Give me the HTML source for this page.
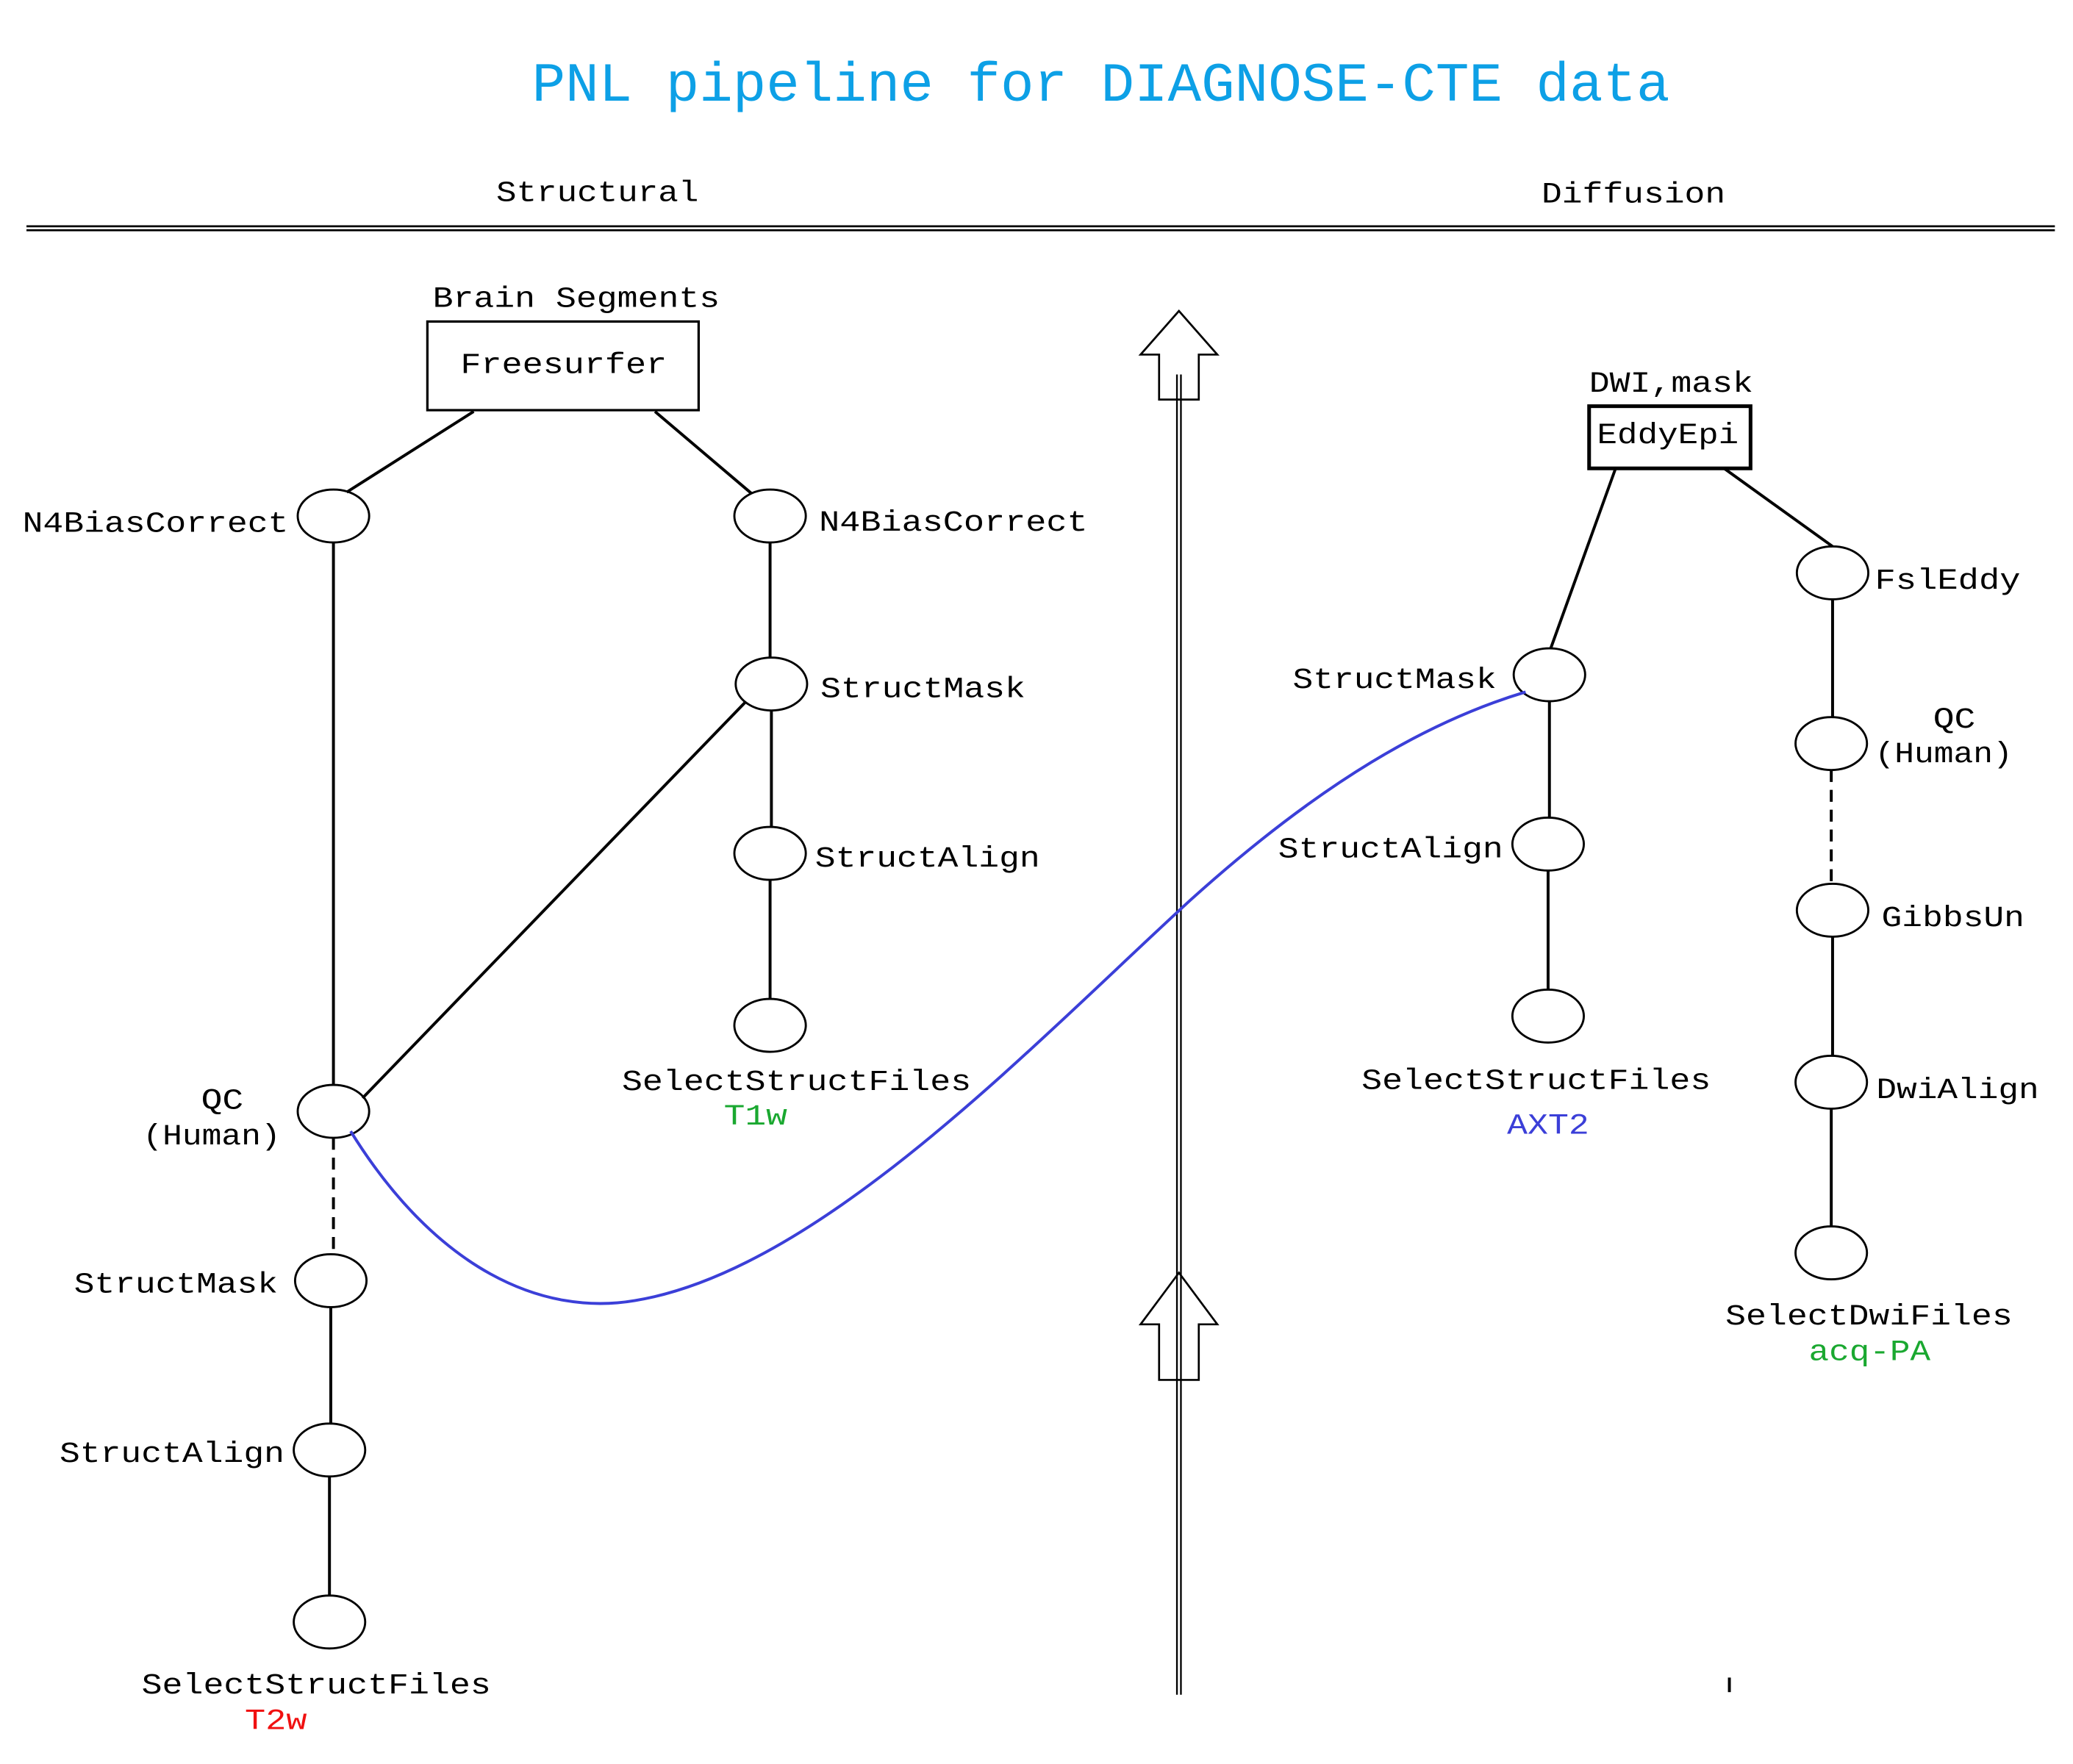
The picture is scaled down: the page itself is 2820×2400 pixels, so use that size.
<!DOCTYPE html>
<html><head><style>html,body{margin:0;padding:0;background:#fff}svg{display:block}</style></head>
<body>
<svg width="2820" height="2400" viewBox="0 0 1566.7 1333.3" xmlns="http://www.w3.org/2000/svg">
<rect width="1566.7" height="1333.3" fill="#fff"/>
<g font-family="Liberation Mono, monospace" lengthAdjust="spacingAndGlyphs">
<text x="402" y="76" font-size="42" fill="#0da0e6" textLength="860" lengthAdjust="spacingAndGlyphs">PNL pipeline for DIAGNOSE-CTE data</text>
<g font-size="22" fill="#000">
<text x="375" y="152" textLength="153" lengthAdjust="spacingAndGlyphs">Structural</text>
<text x="1165" y="153" textLength="139" lengthAdjust="spacingAndGlyphs">Diffusion</text>
<text x="327" y="232" textLength="217" lengthAdjust="spacingAndGlyphs">Brain Segments</text>
<text x="348" y="282" textLength="156" lengthAdjust="spacingAndGlyphs">Freesurfer</text>
<text x="1201" y="296" textLength="124" lengthAdjust="spacingAndGlyphs">DWI,mask</text>
<text x="1207" y="335" textLength="107" lengthAdjust="spacingAndGlyphs">EddyEpi</text>
<text x="17" y="402" textLength="201" lengthAdjust="spacingAndGlyphs">N4BiasCorrect</text>
<text x="619" y="401" textLength="203" lengthAdjust="spacingAndGlyphs">N4BiasCorrect</text>
<text x="620" y="527" textLength="155" lengthAdjust="spacingAndGlyphs">StructMask</text>
<text x="616" y="655" textLength="170" lengthAdjust="spacingAndGlyphs">StructAlign</text>
<text x="470" y="824" textLength="264" lengthAdjust="spacingAndGlyphs">SelectStructFiles</text>
<text x="547" y="850" fill="#1aa830" textLength="48" lengthAdjust="spacingAndGlyphs">T1w</text>
<text x="152" y="838" textLength="32" lengthAdjust="spacingAndGlyphs">QC</text>
<text x="108" y="865" textLength="104" lengthAdjust="spacingAndGlyphs">(Human)</text>
<text x="56" y="977" textLength="154" lengthAdjust="spacingAndGlyphs">StructMask</text>
<text x="45" y="1105" textLength="170" lengthAdjust="spacingAndGlyphs">StructAlign</text>
<text x="107" y="1280" textLength="264" lengthAdjust="spacingAndGlyphs">SelectStructFiles</text>
<text x="185" y="1307" fill="#f01010" textLength="47" lengthAdjust="spacingAndGlyphs">T2w</text>
<text x="977" y="520" textLength="154" lengthAdjust="spacingAndGlyphs">StructMask</text>
<text x="966" y="648" textLength="170" lengthAdjust="spacingAndGlyphs">StructAlign</text>
<text x="1029" y="823" textLength="264" lengthAdjust="spacingAndGlyphs">SelectStructFiles</text>
<text x="1139" y="857" fill="#3b3fd8" textLength="62" lengthAdjust="spacingAndGlyphs">AXT2</text>
<text x="1417" y="445" textLength="110" lengthAdjust="spacingAndGlyphs">FslEddy</text>
<text x="1461" y="550" textLength="32" lengthAdjust="spacingAndGlyphs">QC</text>
<text x="1417" y="576" textLength="104" lengthAdjust="spacingAndGlyphs">(Human)</text>
<text x="1422" y="700" textLength="108" lengthAdjust="spacingAndGlyphs">GibbsUn</text>
<text x="1418" y="830" textLength="123" lengthAdjust="spacingAndGlyphs">DwiAlign</text>
<text x="1304" y="1001" textLength="217" lengthAdjust="spacingAndGlyphs">SelectDwiFiles</text>
<text x="1367" y="1028" fill="#1aa830" textLength="92" lengthAdjust="spacingAndGlyphs">acq-PA</text>
</g>
</g>
<g stroke="#000" fill="none" stroke-width="2.2">
<line x1="20" y1="171" x2="1553" y2="171" stroke-width="1.5"/>
<line x1="20" y1="174" x2="1553" y2="174" stroke-width="1.5"/>
<line x1="889.5" y1="283" x2="889.5" y2="1281" stroke-width="1.3"/>
<line x1="892.5" y1="283" x2="892.5" y2="1281" stroke-width="1.3"/>
<polygon stroke-width="1.5" fill="none" points="891,235 862,268 876,268 876,302 906,302 906,268 920,268"/>
<polygon stroke-width="1.5" fill="none" points="891,962 862,1001 876,1001 876,1043 906,1043 906,1001 920,1001"/>
<line x1="1307" y1="1268" x2="1307" y2="1279"/>
<rect x="323" y="243" width="205" height="67" stroke-width="1.8"/>
<rect x="1201" y="307" width="122" height="47" stroke-width="2.8"/>
<line x1="358" y1="311" x2="262" y2="372"/>
<line x1="495" y1="311" x2="568" y2="373"/>
<line x1="1221" y1="354" x2="1172" y2="490"/>
<line x1="1303" y1="354" x2="1385" y2="413"/>
<line x1="252" y1="410" x2="252" y2="820"/>
<line x1="252" y1="860" x2="252" y2="948" stroke-dasharray="9,6"/>
<line x1="250" y1="988" x2="250" y2="1076"/>
<line x1="249" y1="1116" x2="249" y2="1206"/>
<line x1="563" y1="531" x2="274" y2="830"/>
<line x1="582" y1="410" x2="582" y2="497"/>
<line x1="583" y1="537" x2="583" y2="625"/>
<line x1="582" y1="665" x2="582" y2="755"/>
<line x1="1171" y1="530" x2="1171" y2="618"/>
<line x1="1170" y1="658" x2="1170" y2="748"/>
<line x1="1385" y1="453" x2="1385" y2="542"/>
<line x1="1384" y1="582" x2="1384" y2="668" stroke-dasharray="9,6"/>
<line x1="1385" y1="708" x2="1385" y2="798"/>
<line x1="1384" y1="838" x2="1384" y2="927"/>
<g stroke-width="1.6">
<ellipse cx="252" cy="390" rx="27" ry="20"/>
<ellipse cx="252" cy="840" rx="27" ry="20"/>
<ellipse cx="250" cy="968" rx="27" ry="20"/>
<ellipse cx="249" cy="1096" rx="27" ry="20"/>
<ellipse cx="249" cy="1226" rx="27" ry="20"/>
<ellipse cx="582" cy="390" rx="27" ry="20"/>
<ellipse cx="583" cy="517" rx="27" ry="20"/>
<ellipse cx="582" cy="645" rx="27" ry="20"/>
<ellipse cx="582" cy="775" rx="27" ry="20"/>
<ellipse cx="1171" cy="510" rx="27" ry="20"/>
<ellipse cx="1170" cy="638" rx="27" ry="20"/>
<ellipse cx="1170" cy="768" rx="27" ry="20"/>
<ellipse cx="1385" cy="433" rx="27" ry="20"/>
<ellipse cx="1384" cy="562" rx="27" ry="20"/>
<ellipse cx="1385" cy="688" rx="27" ry="20"/>
<ellipse cx="1384" cy="818" rx="27" ry="20"/>
<ellipse cx="1384" cy="947" rx="27" ry="20"/>
</g>
<path d="M265,855 C330,960 410,995 480,983 C620,960 780,790 900,680 C1000,590 1080,545 1153,523" stroke="#3b3fd8" stroke-width="2.2"/>
</g>
</svg>
</body></html>
